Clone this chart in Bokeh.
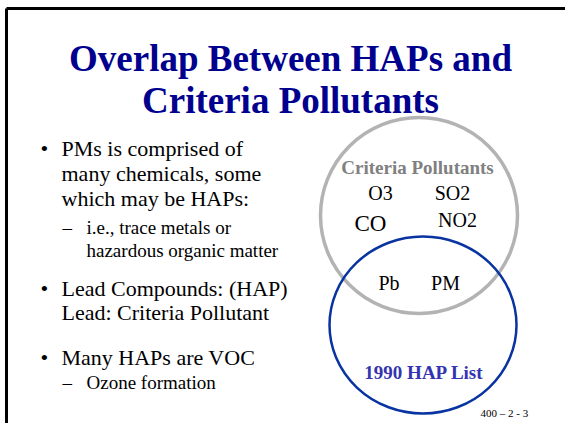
from bokeh.plotting import figure
from bokeh.models import Range1d, ColumnDataSource
from bokeh.core.properties import value
from bokeh.embed import file_html
from bokeh.resources import INLINE

# ---- text content ----
title_lines = ["Overlap Between HAPs and", "Criteria Pollutants"]
bullet_lines = ["PMs is comprised of", "many chemicals, some", "which may be HAPs:",
                "Lead Compounds: (HAP)", "Lead: Criteria Pollutant", "Many HAPs are VOC"]
sub_lines = ["i.e., trace metals or", "hazardous organic matter", "Ozone formation"]
criteria_title = ["Criteria Pollutants"]
criteria_items = ["O3", "SO2", "NO2"]
criteria_big = ["CO"]
overlap_items = ["Pb", "PM"]
hap_title = ["1990 HAP List"]
slide_number = ["400 – 2 - 3"]

# ---- positions (reference pixel coordinates) ----
title_x = [290, 290]
title_y = [58, 100]
bullet_x = [61, 61, 61, 61, 61, 61]
bullet_y = [148, 173, 198, 288, 312, 357]
bullet_mark_y = [148, 288, 357]
sub_x = [86, 86, 86]
sub_y = [227, 250, 382]
sub_mark_y = [227, 382]
criteria_title_xy = ([417], [167])
criteria_items_xy = ([380, 452, 457], [192, 192, 219])
criteria_big_xy = ([370], [223])
overlap_xy = ([388.5, 445], [282, 282])
hap_title_xy = ([423.5], [372])
slide_number_xy = ([480], [412])

# circles: centre x, centre y, width, height
gray_circle = dict(x=[418.5], y=[215], w=[197], h=[196])
blue_circle = dict(x=[422.5], y=[324.5], w=[187], h=[177])

FONT = value("Liberation Serif")

p = figure(width=565, height=423, x_range=Range1d(0, 565), y_range=Range1d(423, 0),
           output_backend="svg", toolbar_location=None,
           x_axis_location=None, y_axis_location=None, min_border=0)
p.grid.visible = False
p.outline_line_color = None
p.background_fill_color = "white"
p.border_fill_color = "white"

# slide frame (top and left edges)
p.line(x=[6, 565], y=[8, 8], line_color="black", line_width=3)
p.line(x=[6, 6], y=[8, 423], line_color="black", line_width=3)

# venn circles
p.ellipse(x=gray_circle["x"], y=gray_circle["y"], width=gray_circle["w"], height=gray_circle["h"],
          fill_color=None, line_color="#b3b3b3", line_width=3.5)
p.ellipse(x=blue_circle["x"], y=blue_circle["y"], width=blue_circle["w"], height=blue_circle["h"],
          fill_color=None, line_color="#0833a0", line_width=2.5)


def txt(xs, ys, texts, size, color, bold=False, align="left"):
    src = ColumnDataSource(dict(x=xs, y=ys, t=texts))
    p.text("x", "y", "t", source=src, text_font=FONT, text_font_size=value(size),
           text_color=color, text_font_style="bold" if bold else "normal",
           text_align=align, text_baseline="alphabetic")


txt(title_x, title_y, title_lines, "37px", "#00008f", bold=True, align="center")
txt(bullet_x, bullet_y, bullet_lines, "22px", "black")
txt([40] * len(bullet_mark_y), bullet_mark_y, ["•"] * len(bullet_mark_y), "22px", "black")
txt(sub_x, sub_y, sub_lines, "19px", "black")
txt([62] * len(sub_mark_y), sub_mark_y, ["–"] * len(sub_mark_y), "19px", "black")

txt(*criteria_title_xy, criteria_title, "19px", "#808080", bold=True, align="center")
txt(*criteria_items_xy, criteria_items, "20px", "black", align="center")
txt(*criteria_big_xy, criteria_big, "23px", "black", align="center")
txt(*overlap_xy, overlap_items, "20px", "black", align="center")
txt(*hap_title_xy, hap_title, "19px", "#3434b0", bold=True, align="center")
txt(*slide_number_xy, slide_number, "11px", "black")

open("out.html", "w").write(file_html(p, INLINE))
